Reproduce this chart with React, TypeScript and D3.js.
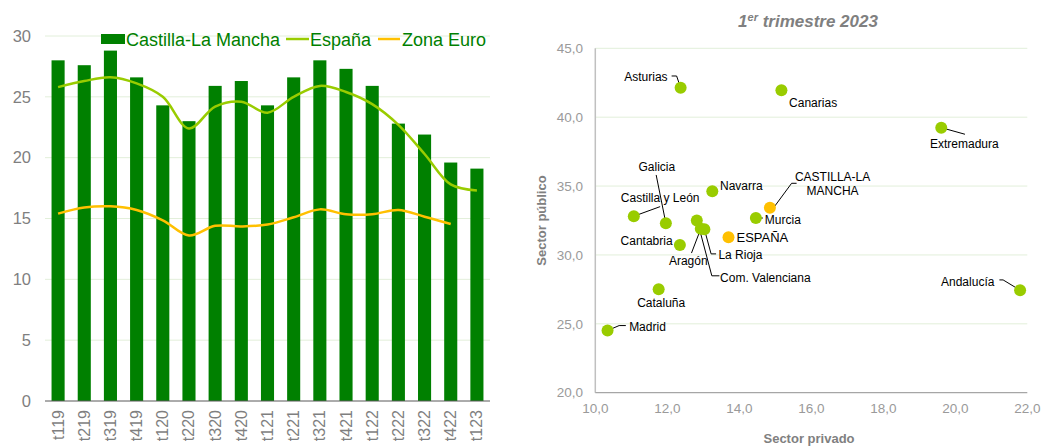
import React, { useEffect } from 'react';
import * as d3 from 'd3';

// ---------- Left chart data ----------
const quarters = ['t119','t219','t319','t419','t120','t220','t320','t420','t121','t221','t321','t421','t122','t222','t322','t422','t123'];
const clmValues = [28.0,27.6,28.8,26.6,24.3,23.0,25.9,26.3,24.3,26.6,28.0,27.3,25.9,22.8,21.9,19.6,19.1];
const espanaValues = [25.8,26.3,26.6,26.1,25.0,22.4,24.2,24.6,23.7,25.0,25.9,25.4,24.4,22.7,20.3,17.8,17.3];
const euroValues: (number | null)[] = [15.4,15.9,16.0,15.7,14.85,13.6,14.4,14.35,14.5,15.1,15.75,15.35,15.35,15.7,15.15,14.55,null];
const leftTicks = [0,5,10,15,20,25,30];
const legendLabels = ['Castilla-La Mancha','España','Zona Euro'];

// ---------- Right chart data ----------
const regions = ['Asturias','Canarias','Extremadura','Galicia','Castilla y León','Navarra','CASTILLA-LA MANCHA','Murcia','ESPAÑA','Aragón','La Rioja','Com. Valenciana','Cantabria','Cataluña','Andalucía','Madrid'];
const privado = [12.37,15.17,19.61,11.96,11.07,13.25,14.85,14.46,13.70,12.93,13.03,12.82,12.35,11.76,21.80,10.34];
const publico = [42.14,41.95,39.24,32.30,32.81,34.62,33.43,32.68,31.28,31.90,31.87,32.50,30.73,27.51,27.44,24.51];
const highlighted = ['CASTILLA-LA MANCHA','ESPAÑA'];
const xTicksRight = [10,12,14,16,18,20,22];
const yTicksRight = [20,25,30,35,40,45];
const rightTitle = ['1', 'er', ' trimestre 2023'];

// label layout (pixel offsets from the point; dy is the text baseline)
type Lay = { dx: number; dy: number; anchor: string; leader?: [number, number][]; lines?: number[]; size?: number };
const labelLayout: Record<string, Lay> = {
  'Asturias': { dx: -13, dy: -6.5, anchor: 'end', leader: [[-9,-11.7],[-4,-11.7],[0,0]] },
  'Canarias': { dx: 7.7, dy: 16.7, anchor: 'start' },
  'Extremadura': { dx: -11.3, dy: 20.3, anchor: 'start', leader: [[0,0],[23.7,6.6]] },
  'Galicia': { dx: -9, dy: -52.3, anchor: 'middle', leader: [[0,0],[-9.7,-48.3]] },
  'Castilla y León': { dx: -13, dy: -14.3, anchor: 'start', leader: [[0,0],[26.3,-9.6]] },
  'Navarra': { dx: 7.7, dy: -1.3, anchor: 'start' },
  'CASTILLA-LA MANCHA': { dx: 62.7, dy: -26.7, anchor: 'middle', lines: [0, 14.5], leader: [[3.3,0.6],[21.7,-24.4],[26.7,-24.4]] },
  'Murcia': { dx: 9, dy: 6, anchor: 'start', leader: [[0,0],[7,0]] },
  'ESPAÑA': { dx: 8, dy: 4.7, anchor: 'start', size: 13 },
  'Aragón': { dx: -12.5, dy: 36.3, anchor: 'middle', leader: [[-9.3,24.3],[0,0]] },
  'La Rioja': { dx: 14, dy: 29.7, anchor: 'start', leader: [[0,0],[6.7,24.7],[11.7,24.7]] },
  'Com. Valenciana': { dx: 23.3, dy: 61, anchor: 'start', leader: [[0.6,0.7],[15,55.3],[22.6,55.3]] },
  'Cantabria': { dx: -7.3, dy: 0, anchor: 'end' },
  'Cataluña': { dx: 2.5, dy: 17.7, anchor: 'middle' },
  'Andalucía': { dx: -25.7, dy: -4.3, anchor: 'end', leader: [[-20.7,-10.3],[-17,-10.3],[0,0]] },
  'Madrid': { dx: 21.6, dy: 0, anchor: 'start', leader: [[0,0],[11.6,-5],[18.3,-5]] },
};

const FONT = '"Liberation Sans", Arial, Helvetica, sans-serif';
const GREEN = '#008000';
const LIME = '#99CC00';
const ORANGE = '#FFC000';
const GRID = '#e2efda';

const commaFmt = d3.formatLocale({ decimal: ',', thousands: '.', grouping: [3], currency: ['', '€'] }).format('.1f');

export default function App() {
  useEffect(() => { document.body.style.margin = '0'; }, []);

  // Left chart scales
  const xL = d3.scaleBand<string>().domain(quarters).range([45, 490]).paddingInner(0.5).paddingOuter(0.25);
  const yL = d3.scaleLinear().domain([0, 30]).range([401, 36]);
  const cx = (q: string) => (xL(q) ?? 0) + xL.bandwidth() / 2;
  const lineGen = d3.line<number | null>()
    .defined(d => d !== null)
    .x((_, i) => cx(quarters[i]))
    .y(d => yL(d as number))
    .curve(d3.curveCatmullRom.alpha(0.5));

  // Right chart scales
  const xR = d3.scaleLinear().domain([10, 22]).range([595.3, 1027.3]);
  const yR = d3.scaleLinear().domain([20, 45]).range([392.7, 48.3]);

  return (
    <svg width={1050} height={446} style={{ position: 'absolute', left: 0, top: 0, display: 'block' }} fontFamily={FONT}>
      <rect width={1050} height={446} fill="#fff" />
      {/* ---------- Left chart ---------- */}
      <g>
        {leftTicks.map(t => (
          <g key={t}>
            {t > 0 && <line x1={45} x2={490} y1={yL(t)} y2={yL(t)} stroke={GRID} strokeWidth={1} />}
            <text x={31} y={yL(t)} dy="0.35em" textAnchor="end" fontSize={16.5} fill="#7f7f7f">{t}</text>
          </g>
        ))}
        {quarters.map((q, i) => (
          <rect key={q} x={xL(q)} y={yL(clmValues[i])} width={xL.bandwidth()} height={yL(0) - yL(clmValues[i])} fill={GREEN} />
        ))}
        <line x1={45} x2={490} y1={yL(0)} y2={yL(0)} stroke="#595959" strokeWidth={1} />
        <path d={lineGen(espanaValues) ?? ''} fill="none" stroke={LIME} strokeWidth={2.5} />
        <path d={lineGen(euroValues) ?? ''} fill="none" stroke={ORANGE} strokeWidth={2.5} />
        {quarters.map(q => (
          <text key={q} transform={`translate(${cx(q) + 5.5},410) rotate(-90)`} textAnchor="end" fontSize={16} fill="#7f7f7f">{q}</text>
        ))}
        {/* legend */}
        <rect x={101} y={34} width={24} height={10} fill={GREEN} />
        <text x={126} y={45.5} fontSize={18} fill={GREEN}>{legendLabels[0]}</text>
        <line x1={286} x2={309} y1={39} y2={39} stroke={LIME} strokeWidth={2.5} />
        <text x={310} y={45.5} fontSize={18} fill={GREEN}>{legendLabels[1]}</text>
        <line x1={378} x2={400} y1={39} y2={39} stroke={ORANGE} strokeWidth={2.5} />
        <text x={402} y={45.5} fontSize={18} fill={GREEN}>{legendLabels[2]}</text>
      </g>

      {/* ---------- Right chart ---------- */}
      <g>
        <text x={808} y={27} textAnchor="middle" fontSize={17} fontWeight="bold" fontStyle="italic" fill="#808080">
          {rightTitle[0]}<tspan fontSize={11} dy={-6}>{rightTitle[1]}</tspan><tspan dy={6}>{rightTitle[2]}</tspan>
        </text>
        {yTicksRight.map(t => (
          <g key={t}>
            {t > 20 && <line x1={595.3} x2={1027.3} y1={yR(t)} y2={yR(t)} stroke={GRID} strokeWidth={1} />}
            <text x={583} y={yR(t)} dy="0.35em" textAnchor="end" fontSize={13.5} fill="#9a9a9a">{commaFmt(t)}</text>
          </g>
        ))}
        {xTicksRight.map(t => (
          <text key={t} x={xR(t)} y={413} textAnchor="middle" fontSize={13.5} fill="#9a9a9a">{commaFmt(t)}</text>
        ))}
        <line x1={xR(10)} x2={xR(10)} y1={yR(45)} y2={yR(20)} stroke="#c0c0c0" strokeWidth={1.5} />
        <line x1={xR(10)} x2={xR(22)} y1={yR(20)} y2={yR(20)} stroke="#a6a6a6" strokeWidth={1.2} />
        <text x={809} y={443} textAnchor="middle" fontSize={13} fontWeight="bold" fill="#808080">Sector privado</text>
        <text transform={`translate(546,${(yR(45) + yR(20)) / 2}) rotate(-90)`} textAnchor="middle" fontSize={13} fontWeight="bold" fill="#808080">Sector público</text>

        {regions.map((r, i) => {
          const px = xR(privado[i]);
          const py = yR(publico[i]);
          const L = labelLayout[r];
          if (!L || !L.leader) return null;
          const pts = L.leader.map(([a, b]) => [px + a, py + b] as [number, number]);
          return <path key={r + '-l'} d={d3.line()(pts) ?? ''} fill="none" stroke="#000" strokeWidth={1} />;
        })}
        {regions.map((r, i) => (
          <circle key={r} cx={xR(privado[i])} cy={yR(publico[i])} r={6} fill={highlighted.includes(r) ? ORANGE : LIME} />
        ))}
        {regions.map((r, i) => {
          const px = xR(privado[i]);
          const py = yR(publico[i]);
          const L = labelLayout[r];
          const size = L.size ?? 12;
          if (L.lines) {
            const parts = r === 'CASTILLA-LA MANCHA' ? ['CASTILLA-LA', 'MANCHA'] : [r];
            return (
              <text key={r + '-t'} x={px + L.dx} y={py + L.dy} textAnchor={L.anchor} fontSize={size} fill="#000">
                {parts.map((p, k) => <tspan key={k} x={px + L.dx} y={py + L.dy + (L.lines as number[])[k]}>{p}</tspan>)}
              </text>
            );
          }
          return <text key={r + '-t'} x={px + L.dx} y={py + L.dy} textAnchor={L.anchor} fontSize={size} fill="#000">{r}</text>;
        })}
      </g>
    </svg>
  );
}
